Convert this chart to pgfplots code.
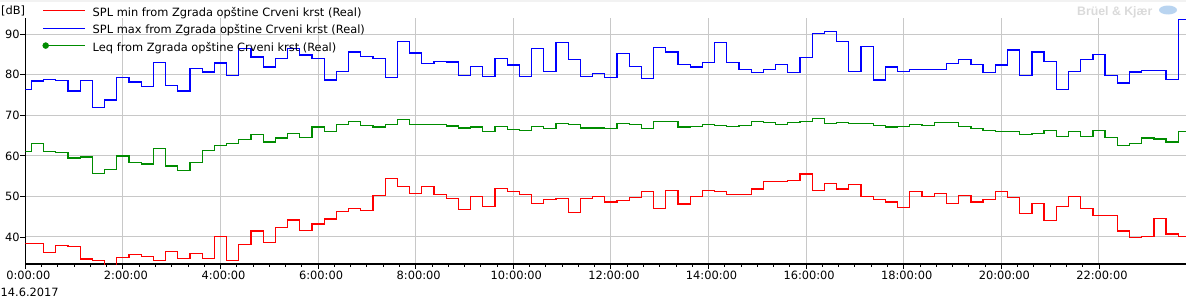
\documentclass[border=0pt]{standalone}
\usepackage{pgfplots}
\pgfplotsset{compat=1.18}
\usepackage{pgfplotstable}
\usepackage{fontspec}
\setmainfont{DejaVu Sans}
\newfontfamily\wmfont{Liberation Sans}
\definecolor{myred}{RGB}{255,0,0}
\definecolor{myblue}{RGB}{0,0,255}
\definecolor{mygreen}{RGB}{0,140,0}
\definecolor{gridc}{RGB}{200,200,200}
\definecolor{wmgray}{RGB}{218,218,218}
\definecolor{wmblue}{RGB}{185,212,240}

\pgfplotstableread{
x min max leq
0 38.4 76.3 61.1
0.125 38.4 78.5 63.1
0.375 36.2 78.9 61.1
0.625 37.9 78.65 60.9
0.875 37.6 76.0 59.5
1.125 34.6 78.65 59.7
1.375 34.2 72.0 55.7
1.625 32.5 73.8 56.7
1.875 35.0 79.4 60.0
2.125 35.7 78.2 58.4
2.375 35.2 77.2 58.0
2.625 34.2 83.1 61.9
2.875 36.5 77.4 57.5
3.125 34.7 76.0 56.4
3.375 36.0 81.6 58.4
3.625 34.7 80.7 61.4
3.875 40.2 82.9 62.6
4.125 34.2 79.9 63.1
4.375 38.2 86.5 64.1
4.625 41.5 84.4 65.3
4.875 38.7 81.9 63.4
5.125 42.4 84.1 64.4
5.375 44.2 86.5 65.6
5.625 41.6 84.9 64.6
5.875 43.2 84.1 67.1
6.125 44.4 78.7 66.1
6.375 46.3 80.8 67.8
6.625 47.1 85.6 68.5
6.875 46.6 84.6 67.5
7.125 50.3 84.1 67.1
7.375 54.5 79.4 67.8
7.625 52.4 88.3 69.0
7.875 50.8 85.4 67.8
8.125 52.5 82.8 67.8
8.375 50.5 83.3 67.8
8.625 49.5 83.2 67.4
8.875 46.8 79.9 66.9
9.125 50.0 82.1 67.1
9.375 47.6 79.6 66.1
9.625 52.0 84.1 67.3
9.875 51.3 82.4 66.6
10.125 50.5 79.6 66.3
10.375 48.3 86.5 67.3
10.625 49.3 80.9 66.8
10.875 49.5 88.0 68.0
11.125 46.1 83.8 67.8
11.375 49.5 79.6 66.9
11.625 50.0 80.4 66.9
11.875 48.6 79.4 66.8
12.125 49.0 85.3 68.0
12.375 49.8 82.1 67.8
12.625 51.3 79.1 66.8
12.875 47.1 86.8 68.5
13.125 51.5 85.6 68.5
13.375 48.1 82.6 67.1
13.625 50.0 81.9 67.3
13.875 51.5 83.1 67.8
14.125 51.3 88.0 67.5
14.375 50.5 83.1 67.3
14.625 50.5 81.4 67.5
14.875 51.8 80.5 68.5
15.125 53.7 81.4 68.3
15.375 53.7 82.6 67.8
15.625 54.0 80.5 68.3
15.875 55.5 84.3 68.5
16.125 51.5 90.2 69.3
16.375 53.2 90.7 68.0
16.625 51.8 88.3 68.3
16.875 53.0 80.9 68.0
17.125 50.0 87.0 68.0
17.375 49.3 78.7 67.5
17.625 48.6 81.9 67.1
17.875 47.3 80.9 67.3
18.125 51.3 81.4 67.8
18.375 50.0 81.4 67.5
18.625 50.8 81.4 68.3
18.875 48.3 82.8 68.3
19.125 50.3 83.8 67.3
19.375 48.6 82.6 66.8
19.625 49.3 80.5 66.3
19.875 51.3 82.4 66.1
20.125 49.8 86.1 66.1
20.375 45.8 79.9 65.3
20.625 48.3 85.6 65.6
20.875 44.1 83.3 66.3
21.125 47.6 76.3 64.8
21.375 50.0 80.9 66.1
21.625 47.1 83.8 64.8
21.875 45.3 85.1 66.3
22.125 45.3 79.9 64.5
22.375 41.5 78.0 62.6
22.625 39.8 80.7 63.1
22.875 40.2 81.0 64.4
23.125 44.6 81.1 64.2
23.375 40.7 78.9 63.4
23.625 40.2 93.7 66.1
23.78 40.2 93.7 66.1
}\data

\begin{document}
\begin{tikzpicture}[x=1pt,y=1pt]
\useasboundingbox (0,0) rectangle (1186,301);
\fill[black!5] (0,299) rectangle (1186,301);
\node[anchor=base west, inner sep=0pt, text=wmgray, font=\wmfont\bfseries\fontsize{12.3}{14}\selectfont] at (1077,285.7) {Brüel \& Kjær};
\fill[wmblue] (1168,291) ellipse (9 and 4.5);
\begin{axis}[
  at={(25.3pt,37pt)}, anchor=south west,
  scale only axis, width=1160.5pt, height=245.9pt,
  xmin=0, xmax=23.78, ymin=33.33, ymax=94,
  axis x line*=bottom, axis y line*=left,
  axis line style={black, line width=1.2pt, -},
  xtick={0,2,...,22},
  xticklabels={0:00:00,2:00:00,4:00:00,6:00:00,8:00:00,10:00:00,12:00:00,14:00:00,16:00:00,18:00:00,20:00:00,22:00:00},
  minor x tick num=5,
  ytick={40,50,60,70,80,90},
  tick align=outside,
  major tick length=5pt, minor tick length=2.7pt,
  tick style={black, line width=0.9pt},
  grid=major, major grid style={gridc, line width=1pt},
  /pgf/number format/assume math mode=true,
  tick label style={font=\fontsize{11.4}{13}\selectfont, black},
  yticklabel style={inner xsep=0.5pt},
  xticklabel style={xshift=3pt, inner ysep=2pt},
  legend style={at={(axis description cs:0.01482,1.0662)}, anchor=north west, draw=none, fill=none,
    inner sep=0pt, outer sep=0pt, row sep=0pt, /tikz/column sep=7pt,
    font=\fontsize{11.4}{13}\selectfont,
    nodes={inner sep=0pt, text height=14.25pt, text depth=3.25pt}},
  legend cell align=left,
]
\addplot[const plot, myred, line width=1.3pt, forget plot] table[x=x, y=min] {\data};
\addplot[const plot, myblue, line width=1.3pt, forget plot] table[x=x, y=max] {\data};
\addplot[const plot, mygreen, line width=1.3pt, forget plot] table[x=x, y=leq] {\data};
\addlegendimage{legend image code/.code={\draw[myred, line width=1.1pt] (0pt,0pt) -- (42pt,0pt);}}
\addlegendentry{SPL min from Zgrada opštine Crveni krst (Real)}
\addlegendimage{legend image code/.code={\draw[myblue, line width=1.1pt] (0pt,0pt) -- (42pt,0pt);}}
\addlegendentry{SPL max from Zgrada opštine Crveni krst (Real)}
\addlegendimage{legend image code/.code={\draw[mygreen, line width=1.1pt] (0pt,0pt) -- (42pt,0pt); \fill[mygreen] (2.5pt,0pt) circle (3pt);}}
\addlegendentry{Leq from Zgrada opštine Crveni krst (Real)}
\end{axis}
\node[anchor=base west, inner sep=0pt, font=\fontsize{11.4}{13}\selectfont] at (1,286.5) {[dB]};
\node[anchor=base west, inner sep=0pt, font=\fontsize{11.4}{13}\selectfont] at (0.5,4.3) {14.6.2017};
\end{tikzpicture}
\end{document}
